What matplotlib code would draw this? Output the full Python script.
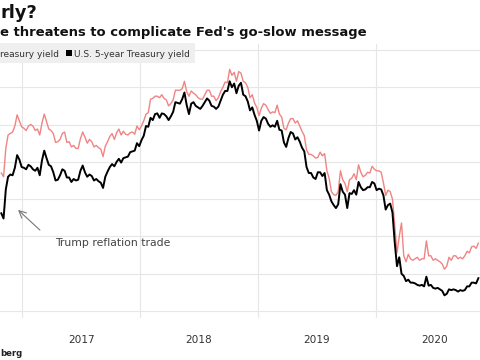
import matplotlib
matplotlib.use("Agg")
import matplotlib.pyplot as plt
from matplotlib.patches import Rectangle
import pandas as pd

# weekly (Friday) closes, starting 2016-10-28
five_year_2016 = [1.31, 1.24, 1.63, 1.80, 1.83, 1.82, 1.92, 2.09, 2.03, 1.93]
ten_year_2016 = [1.85, 1.80, 2.18, 2.36, 2.38, 2.40, 2.48, 2.63, 2.55, 2.47]

five_year_2017 = [1.92, 1.90, 1.96, 1.94,
                  1.90, 1.88, 1.92, 1.82,
                  2.02, 2.15, 2.05, 1.96, 1.94,
                  1.86, 1.75, 1.76, 1.82,
                  1.90, 1.88, 1.79, 1.79,
                  1.73, 1.77, 1.75, 1.76, 1.88,
                  1.95, 1.86, 1.80, 1.83,
                  1.81, 1.75, 1.77, 1.74,
                  1.72, 1.65, 1.80, 1.87, 1.93,
                  1.97, 1.94, 2.00, 2.04,
                  1.99, 2.05, 2.06, 2.07,
                  2.13, 2.14, 2.15, 2.25, 2.21]
ten_year_2017 = [2.45, 2.42, 2.48, 2.50,
                 2.48, 2.42, 2.44, 2.36,
                 2.52, 2.64, 2.54, 2.44, 2.42,
                 2.38, 2.26, 2.27, 2.30,
                 2.38, 2.40, 2.26, 2.27,
                 2.20, 2.22, 2.18, 2.18, 2.31,
                 2.40, 2.33, 2.25, 2.30,
                 2.27, 2.20, 2.22, 2.19,
                 2.17, 2.07, 2.21, 2.27, 2.34,
                 2.38, 2.30, 2.39, 2.44,
                 2.36, 2.41, 2.37, 2.36,
                 2.39, 2.40, 2.37, 2.48, 2.43]

five_year_2018 = [2.29, 2.35, 2.48, 2.47,
                  2.59, 2.56, 2.64, 2.65,
                  2.59, 2.65, 2.64, 2.61, 2.56,
                  2.61, 2.67, 2.80, 2.79,
                  2.78, 2.84, 2.93, 2.76,
                  2.64, 2.78, 2.80, 2.75, 2.73,
                  2.71, 2.75, 2.80, 2.85,
                  2.82, 2.75, 2.74, 2.71, 2.74,
                  2.82, 2.90, 2.95, 2.95,
                  3.08, 3.00, 3.05, 2.92,
                  3.02, 3.06, 2.90, 2.88, 2.81,
                  2.69, 2.73, 2.63, 2.55]
ten_year_2018 = [2.48, 2.55, 2.64, 2.66,
                 2.84, 2.85, 2.88, 2.88,
                 2.86, 2.90, 2.85, 2.83, 2.75,
                 2.78, 2.83, 2.96, 2.96,
                 2.96, 2.98, 3.08, 2.94,
                 2.88, 2.95, 2.92, 2.90, 2.86,
                 2.84, 2.84, 2.90, 2.96,
                 2.96, 2.88, 2.88, 2.82, 2.86,
                 2.94, 3.00, 3.07, 3.06,
                 3.24, 3.16, 3.20, 3.08,
                 3.21, 3.19, 3.08, 3.06, 3.00,
                 2.86, 2.90, 2.79, 2.73]

five_year_2019 = [2.42, 2.55, 2.60, 2.58,
                  2.51, 2.47, 2.49, 2.47,
                  2.55, 2.43, 2.42, 2.26, 2.20,
                  2.32, 2.40, 2.38, 2.30,
                  2.33, 2.27, 2.19, 2.14, 1.93,
                  1.85, 1.85, 1.79, 1.77,
                  1.86, 1.86, 1.81, 1.85,
                  1.62, 1.56, 1.47, 1.42, 1.38,
                  1.43, 1.70, 1.60, 1.56,
                  1.38, 1.58, 1.57, 1.62,
                  1.56, 1.73, 1.66, 1.62, 1.63,
                  1.66, 1.66, 1.73, 1.71]
ten_year_2019 = [2.62, 2.72, 2.78, 2.76,
                 2.70, 2.65, 2.67, 2.66,
                 2.76, 2.64, 2.60, 2.45, 2.43,
                 2.52, 2.58, 2.58, 2.52,
                 2.55, 2.48, 2.41, 2.35, 2.16,
                 2.10, 2.10, 2.08, 2.05,
                 2.06, 2.13, 2.08, 2.11,
                 1.88, 1.78, 1.60, 1.56, 1.55,
                 1.60, 1.88, 1.76, 1.71,
                 1.60, 1.76, 1.78, 1.84,
                 1.76, 1.96, 1.86, 1.80, 1.82,
                 1.86, 1.85, 1.94, 1.90]

five_year_2020 = [1.62, 1.64, 1.63, 1.55, 1.36,
                  1.42, 1.44, 1.32, 0.92,
                  0.60, 0.72, 0.50, 0.47,
                  0.40, 0.42, 0.38, 0.38,
                  0.37, 0.35, 0.34, 0.35, 0.33,
                  0.46, 0.34, 0.35, 0.31,
                  0.30, 0.31, 0.29, 0.27, 0.21,
                  0.23, 0.29, 0.28, 0.29,
                  0.28, 0.26, 0.28, 0.27,
                  0.28, 0.33, 0.33, 0.38, 0.38,
                  0.37, 0.44]
ten_year_2020 = [1.88, 1.88, 1.86, 1.72, 1.55,
                 1.62, 1.60, 1.50, 1.15,
                 0.78, 1.00, 1.18, 0.74,
                 0.66, 0.76, 0.70, 0.68,
                 0.70, 0.72, 0.68, 0.70, 0.70,
                 0.94, 0.74, 0.74, 0.68,
                 0.70, 0.68, 0.66, 0.63, 0.56,
                 0.60, 0.72, 0.68, 0.74,
                 0.74, 0.70, 0.72, 0.70,
                 0.74, 0.80, 0.78, 0.86, 0.87,
                 0.84, 0.91]

five_year = five_year_2016 + five_year_2017 + five_year_2018 + five_year_2019 + five_year_2020
ten_year = ten_year_2016 + ten_year_2017 + ten_year_2018 + ten_year_2019 + ten_year_2020
dates = pd.date_range("2016-10-28", periods=len(five_year), freq="W-FRI")

year_labels = ["2017", "2018", "2019", "2020"]
grid_levels = [0.0, 0.5, 1.0, 1.5, 2.0, 2.5, 3.0, 3.5]

W, H = 480, 360
fig = plt.figure(figsize=(W / 100, H / 100), dpi=100)
ax = fig.add_axes([0, 42 / H, 1, 274 / H])

ax.plot(dates, ten_year, color="#ef8583", lw=1.0)
ax.plot(dates, five_year, color="black", lw=1.4)

ax.set_xlim(pd.Timestamp("2016-10-24"), pd.Timestamp("2020-11-18"))
ax.set_ylim(-0.094, 3.58)

year_starts = [pd.Timestamp(y + "-01-01") for y in year_labels]
mid_years = [pd.Timestamp(y + "-07-02") for y in year_labels]
ax.set_xticks(year_starts)
ax.set_xticklabels([])
ax.set_xticks(mid_years, labels=year_labels, minor=True)
ax.set_yticks(grid_levels)
ax.tick_params(axis="both", which="both", length=0, labelleft=False)
ax.tick_params(axis="x", which="minor", pad=12.5, labelsize=7.6, labelcolor="#333333")
ax.grid(True, which="major", color="#e6e6e6", lw=0.8)
ax.set_axisbelow(True)
for s in ax.spines.values():
    s.set_visible(False)

# title block (left side of the original graphic is cropped)
fig.text(0, 1 - 18 / H, "rly?", fontsize=12.8, fontweight="bold", color="#111111",
         ha="left", va="baseline")
fig.text(0, 1 - 36 / H, "e threatens to complicate Fed's go-slow message", fontsize=9.45,
         fontweight="bold", color="#111111", ha="left", va="baseline")

# legend strip
fig.add_artist(Rectangle((0, 1 - 63 / H), 195 / W, 20 / H, transform=fig.transFigure,
                         facecolor="#efefef", edgecolor="none"))
fig.add_artist(Rectangle((66 / W, 1 - 56 / H), 6 / W, 6 / H, transform=fig.transFigure,
                         facecolor="black", edgecolor="none"))
fig.text(0, 1 - 57 / H, "reasury yield", fontsize=6.5, color="#333333", ha="left", va="baseline")
fig.text(74 / W, 1 - 57 / H, "U.S. 5-year Treasury yield", fontsize=6.5, color="#333333",
         ha="left", va="baseline")

# annotation
fig.text(55 / W, 1 - 246 / H, "Trump reflation trade", fontsize=7.8, color="#444444",
         ha="left", va="baseline")
ax.annotate("", xy=(16, H - 208), xycoords="figure pixels", xytext=(42, H - 232),
            textcoords="figure pixels",
            arrowprops=dict(arrowstyle="->,head_length=0.5,head_width=0.25", color="#777777", lw=0.8))

fig.text(0, 1 - 356 / H, "berg", fontsize=6.1, fontweight="bold", color="#222222",
         ha="left", va="baseline")

fig.savefig("out.png", dpi=100)
